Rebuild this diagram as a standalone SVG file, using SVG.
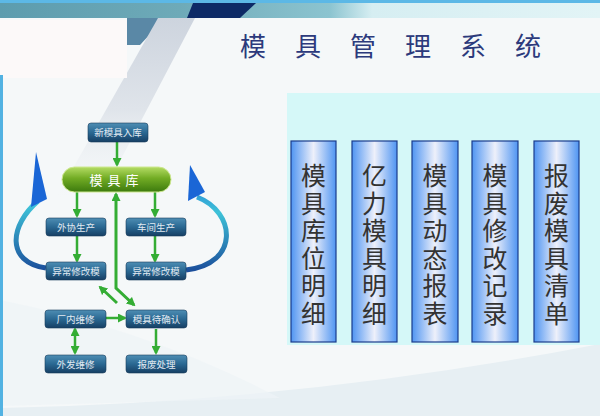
<svg xmlns="http://www.w3.org/2000/svg" width="600" height="416" viewBox="0 0 600 416">
<defs>
<linearGradient id="topband" x1="0" y1="0" x2="1" y2="0">
<stop offset="0" stop-color="#5c9cae"/>
<stop offset="0.3" stop-color="#6eaab8"/>
<stop offset="0.55" stop-color="#8cc4d0"/>
<stop offset="0.62" stop-color="#d6eef2"/>
<stop offset="1" stop-color="#e2f4f6"/>
</linearGradient>
<linearGradient id="stripe" x1="0" y1="0" x2="0" y2="1">
<stop offset="0" stop-color="#cdd4de"/>
<stop offset="0.5" stop-color="#dfe4ea"/>
<stop offset="1" stop-color="#f2f5f7" stop-opacity="0"/>
</linearGradient>
<linearGradient id="col" x1="0" y1="0" x2="1" y2="0">
<stop offset="0" stop-color="#4f95f2"/>
<stop offset="0.5" stop-color="#eef0fa"/>
<stop offset="1" stop-color="#4f95f2"/>
</linearGradient>
<linearGradient id="box" x1="0" y1="0" x2="0" y2="1">
<stop offset="0" stop-color="#4e8eb4"/>
<stop offset="0.5" stop-color="#2a6892"/>
<stop offset="1" stop-color="#163f64"/>
</linearGradient>
<linearGradient id="pill" x1="0" y1="0" x2="0" y2="1">
<stop offset="0" stop-color="#b4dc64"/>
<stop offset="0.45" stop-color="#72ac24"/>
<stop offset="1" stop-color="#3c7a0e"/>
</linearGradient>
<linearGradient id="blueL" gradientUnits="userSpaceOnUse" x1="0" y1="152" x2="0" y2="272">
<stop offset="0" stop-color="#1a62d4"/>
<stop offset="0.45" stop-color="#3ec2d8"/>
<stop offset="1" stop-color="#1a4c9a"/>
</linearGradient>
<linearGradient id="blueR" gradientUnits="userSpaceOnUse" x1="0" y1="164" x2="0" y2="272">
<stop offset="0" stop-color="#1a62d4"/>
<stop offset="0.45" stop-color="#3ec2d8"/>
<stop offset="1" stop-color="#1a4c9a"/>
</linearGradient>
<marker id="ah" markerUnits="userSpaceOnUse" markerWidth="9" markerHeight="9" refX="7" refY="4.5" orient="auto-start-reverse">
<path d="M0,0 L9,4.5 L0,9 Z" fill="#34ad34"/>
</marker>
<style>
.bx{fill:url(#box);stroke:#1a3c5c;stroke-width:0.6}
.bt{font-family:"Noto Sans CJK SC","Noto Sans",sans-serif;font-size:9.5px;fill:#e2eaf2;text-anchor:middle}
.cl{fill:url(#col);stroke:#1c3c8c;stroke-width:1.2}
.ct{font-family:"Noto Sans CJK SC","Noto Sans",sans-serif;font-size:25px;fill:#333333;writing-mode:vertical-rl;letter-spacing:2.6px}
.tt{font-family:"Noto Sans CJK SC","Noto Sans",sans-serif;font-size:26px;fill:#2c3a7c;text-anchor:middle}
.ga{fill:none;stroke:#34ad34;stroke-width:2.5;marker-end:url(#ah)}
</style>
</defs>
<!-- background -->
<rect x="0" y="0" width="600" height="416" fill="#f5f8f9"/>
<path d="M0,416 L0,408 Q300,402 600,344 L600,416 Z" fill="#e7eff3"/>
<path d="M0,300 Q150,330 280,398 L0,406 Z" fill="#eef4f6" opacity="0.7"/>
<rect x="0" y="0" width="600" height="18" fill="url(#topband)"/>
<rect x="0" y="0" width="600" height="3" fill="#5cb8e6"/>
<polygon points="193,3 256,3 240,18 187,18" fill="#0d2a66"/>
<polygon points="127,18 165,18 140,45 127,45" fill="#5a88a6"/>
<polygon points="158,18 195,18 110,180 55,200" fill="url(#stripe)"/>
<rect x="0" y="20" width="127" height="58" fill="#fcf9f9"/>
<rect x="0" y="75" width="3" height="341" fill="#52b2e2"/>
<rect x="287" y="93" width="313" height="252" fill="#d5f8f8"/>
<!-- title -->
<g id="title">
<text class="tt" x="253" y="56">模</text>
<text class="tt" x="308" y="56">具</text>
<text class="tt" x="363" y="56">管</text>
<text class="tt" x="418" y="56">理</text>
<text class="tt" x="473" y="56">系</text>
<text class="tt" x="528" y="56">统</text>
</g>
<!-- columns -->
<g id="col1"><rect class="cl" x="291" y="141" width="45" height="201"/><text class="ct" x="313.5" y="163">模具库位明细</text></g>
<g id="col2"><rect class="cl" x="352" y="141" width="45" height="201"/><text class="ct" x="374.5" y="163">亿力模具明细</text></g>
<g id="col3"><rect class="cl" x="412" y="141" width="46" height="201"/><text class="ct" x="435" y="163">模具动态报表</text></g>
<g id="col4"><rect class="cl" x="472" y="141" width="46" height="201"/><text class="ct" x="495" y="163">模具修改记录</text></g>
<g id="col5"><rect class="cl" x="534" y="141" width="45" height="201"/><text class="ct" x="556.5" y="163">报废模具清单</text></g>
<!-- connectors -->
<g id="connectors">
<path d="M46,268 C5,262 10,225 38,201" fill="none" stroke="url(#blueL)" stroke-width="5"/>
<polygon points="36,152 47,199 31,207" fill="#1a66d6"/>
<path d="M186,270 C240,264 236,212 197,197" fill="none" stroke="url(#blueR)" stroke-width="5"/>
<polygon points="190,165 205,192 188,201" fill="#1a66d6"/>
<path class="ga" d="M117,142 L117,165"/>
<path class="ga" d="M77,192 L77,216"/>
<path class="ga" d="M155,192 L155,216"/>
<path class="ga" d="M77,236 L77,261"/>
<path class="ga" d="M155,236 L155,261"/>
<path class="ga" d="M134,305 L116,288 L116,194" style="marker-start:url(#ah);stroke-width:3"/>
<path class="ga" d="M117,303 L100,287" style="stroke-width:3"/>
<path class="ga" d="M106,318 L125,318"/>
<path class="ga" d="M75,329 L75,353" style="marker-start:url(#ah)"/>
<path class="ga" d="M156,329 L156,353"/>
</g>
<!-- nodes -->
<g id="n_new"><rect class="bx" x="88" y="123" width="60" height="19" rx="3"/><text class="bt" x="118" y="136">新模具入库</text></g>
<g id="n_lib"><rect x="62" y="167" width="109" height="25" rx="12.5" fill="url(#pill)" stroke="#cde890" stroke-width="1"/><text x="116.5" y="184.5" font-family="'Noto Sans CJK SC','Noto Sans',sans-serif" font-size="13" fill="#ffffff" text-anchor="middle" letter-spacing="5">模具库</text></g>
<g id="n_wx"><rect class="bx" x="46" y="218" width="60" height="18" rx="3"/><text class="bt" x="76" y="230.5">外协生产</text></g>
<g id="n_cj"><rect class="bx" x="126" y="218" width="60" height="18" rx="3"/><text class="bt" x="156" y="230.5">车间生产</text></g>
<g id="n_yc1"><rect class="bx" x="46" y="262" width="60" height="18" rx="3"/><text class="bt" x="76" y="274.5">异常修改模</text></g>
<g id="n_yc2"><rect class="bx" x="126" y="262" width="60" height="18" rx="3"/><text class="bt" x="156" y="274.5">异常修改模</text></g>
<g id="n_cn"><rect class="bx" x="45" y="310" width="61" height="18" rx="3"/><text class="bt" x="75.5" y="322.5">厂内维修</text></g>
<g id="n_dq"><rect class="bx" x="126" y="310" width="61" height="18" rx="3"/><text class="bt" x="156.5" y="322.5">模具待确认</text></g>
<g id="n_wf"><rect class="bx" x="45" y="355" width="61" height="18" rx="3"/><text class="bt" x="75.5" y="367.5">外发维修</text></g>
<g id="n_bf"><rect class="bx" x="126" y="355" width="61" height="18" rx="3"/><text class="bt" x="156.5" y="367.5">报废处理</text></g>
</svg>
